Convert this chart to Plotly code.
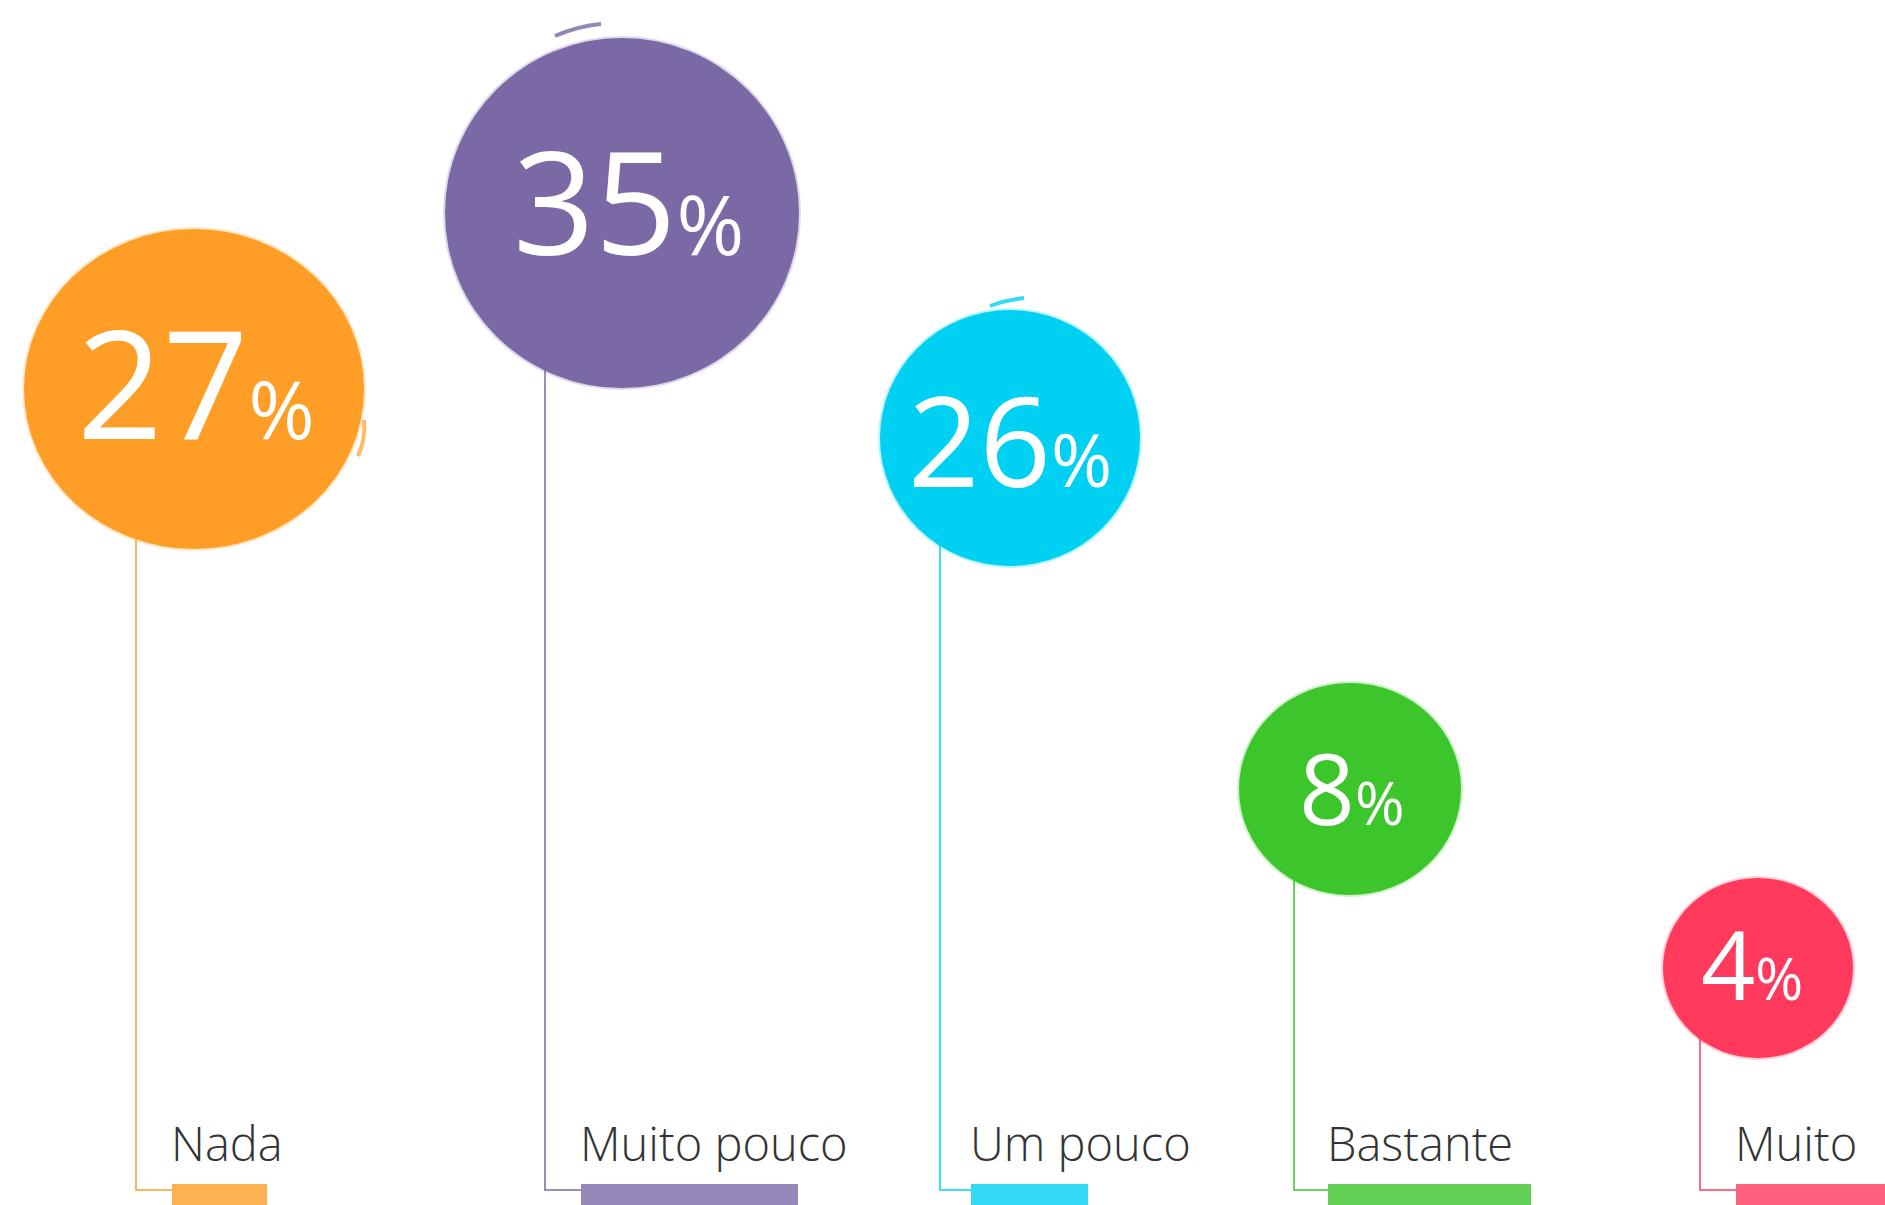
import plotly.graph_objects as go

# ---- data ----
categories = ["Nada", "Muito pouco", "Um pouco", "Bastante", "Muito"]
values = [27, 35, 26, 8, 4]
colors = ["#FE9E26", "#7A69A5", "#00D1F3", "#3DC52C", "#FF3A5C"]

# ---- layout (infographic placement, pixels) ----
W, H = 1885, 1205
bubble_cx = [194, 622, 1010, 1350, 1758]
bubble_cy = [389, 213, 438, 789, 968]
bubble_rx = [170, 177, 130, 111, 95]
bubble_ry = [160, 175, 128, 106, 90]
text_dx = [2, 6, 0, 2, -6]
text_dy = [-8, -14, 0, -2, -5]
num_size = [150, 143, 125, 98, 95]
pct_size = [80, 82, 74, 60, 58]
stem_x = [136, 545, 940, 1294, 1700]
label_x = [172, 581, 971, 1328, 1736]
underline_w = [95, 217, 117, 203, 160]
stem_y = 1190
label_baseline = 1164
FONT = "Source Sans Pro, Open Sans, sans-serif"

fig = go.Figure()
shapes = []
annotations = []

for i, cat in enumerate(categories):
    c = colors[i]
    cx, cy, rx, ry = bubble_cx[i], bubble_cy[i], bubble_rx[i], bubble_ry[i]
    # stem: vertical then horizontal to underline
    shapes.append(dict(type="path", layer="below",
                       path=f"M {stem_x[i]} {cy} L {stem_x[i]} {stem_y} L {label_x[i]} {stem_y}",
                       line=dict(color=c, width=1.5)))
    # soft brush edge
    shapes.append(dict(type="circle", layer="above", xref="x", yref="y",
                       x0=cx - rx - 2, x1=cx + rx + 2, y0=cy - ry - 2, y1=cy + ry + 2,
                       fillcolor=c, opacity=0.25, line=dict(width=0)))
    shapes.append(dict(type="circle", layer="above", xref="x", yref="y",
                       x0=cx - rx, x1=cx + rx, y0=cy - ry, y1=cy + ry,
                       fillcolor=c, line=dict(width=0)))
    # crayon-like underline
    shapes.append(dict(type="rect", layer="above", x0=label_x[i], x1=label_x[i] + underline_w[i],
                       y0=1184, y1=1205, fillcolor=c, opacity=0.8, line=dict(width=0)))
    # value text
    annotations.append(dict(
        x=cx + text_dx[i], y=cy + text_dy[i], xref="x", yref="y", xanchor="center", yanchor="middle",
        text=f"{values[i]}<span style='font-size:{pct_size[i]}px'>%</span>",
        showarrow=False, font=dict(family=FONT, size=num_size[i], color="white", weight=400)))
    # category label
    annotations.append(dict(
        x=label_x[i] - 3, y=label_baseline + 13, xref="x", yref="y", xanchor="left", yanchor="bottom",
        text=cat, showarrow=False, font=dict(family=FONT, size=47, color="#333333", weight=300)))

# small brush strokes
shapes.append(dict(type="path", path="M 555 36 Q 578 26 601 24", line=dict(color=colors[1], width=4), opacity=0.8))
shapes.append(dict(type="path", path="M 990 306 Q 1006 300 1024 298", line=dict(color=colors[2], width=4), opacity=0.8))
shapes.append(dict(type="path", path="M 358 456 Q 366 438 364 420", line=dict(color=colors[0], width=4), opacity=0.7))

fig.update_layout(
    width=W, height=H, margin=dict(l=0, r=0, t=0, b=0),
    paper_bgcolor="white", plot_bgcolor="white",
    xaxis=dict(range=[0, W], visible=False, fixedrange=True),
    yaxis=dict(range=[H, 0], visible=False, fixedrange=True),
    shapes=shapes, annotations=annotations, showlegend=False,
)

fig.write_html("out.html", config={"displayModeBar": False},
               post_script="document.body.style.margin='0';document.body.style.overflow='hidden';")
